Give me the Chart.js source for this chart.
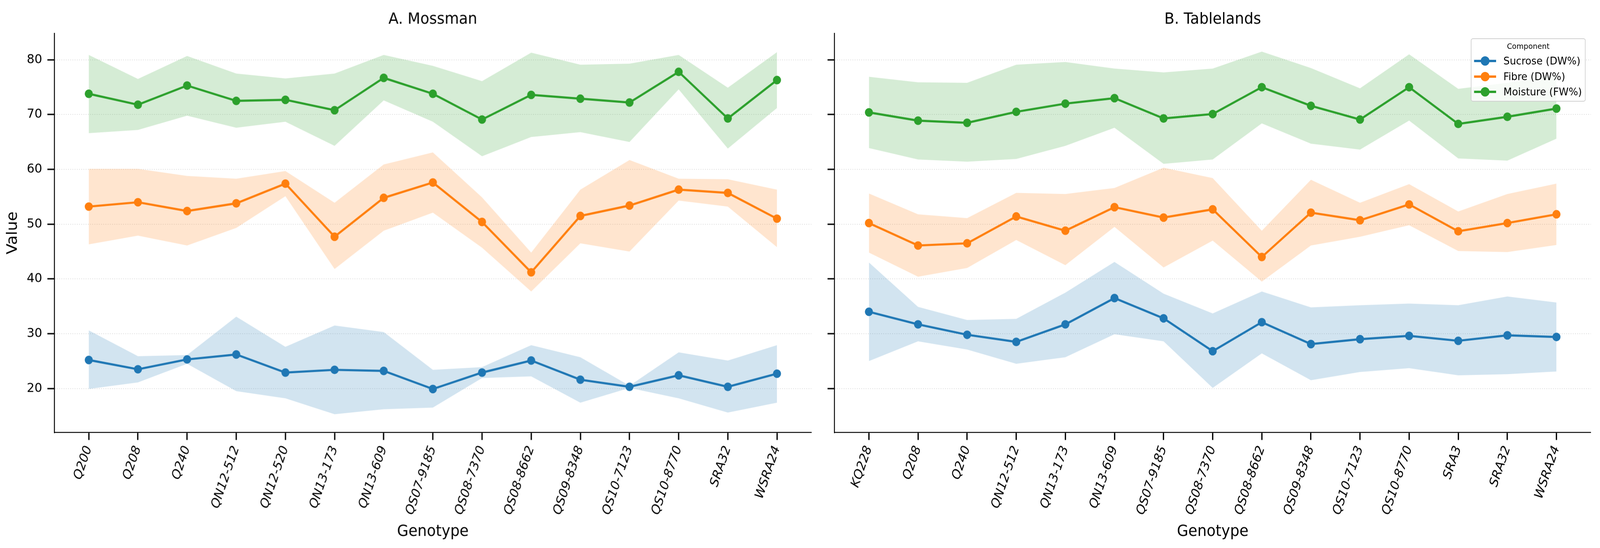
<!DOCTYPE html>
<html>
<head>
<meta charset="utf-8">
<title>Mossman / Tablelands</title>
<script src="https://cdn.jsdelivr.net/npm/chart.js@4.4.0/dist/chart.umd.min.js"></script>
<style>
  html, body { margin: 0; padding: 0; background: #fff; overflow: hidden; }
  #pagina { position: absolute; left: 0; top: 0; width: 4358px; height: 1402px; transform-origin: 0 0;
            font-family: "DejaVu Sans", sans-serif; background: #fff; }
  #wrapA { position: absolute; left: 0; top: 0; width: 2230px; height: 1402px; }
  #wrapB { position: absolute; left: 2230px; top: 0; width: 2128px; height: 1402px; }
  #legend { position: absolute; left: 4006px; top: 98px; width: 313px; height: 162px; box-sizing: border-box;
            border: 2px solid #d0d0d0; border-radius: 6px; background: rgba(255,255,255,0.8); color: #000; }
  #legend .titolo { position: absolute; left: 0; width: 100%; top: 6px; text-align: center; font-size: 20px; line-height: 24px; }
  #legend .riga { position: absolute; left: 0; width: 100%; height: 36px; }
  #legend .linea { position: absolute; left: 7px; width: 60px; top: 15px; height: 6px; }
  #legend .punto { position: absolute; left: 25px; top: 6px; width: 24px; height: 24px; border-radius: 50%; }
  #legend .testo { position: absolute; left: 87px; top: 0; font-size: 27px; line-height: 36px; white-space: nowrap; }
</style>
</head>
<body>
<div id="pagina">
  <div id="wrapA"><canvas id="chartA"></canvas></div>
  <div id="wrapB"><canvas id="chartB"></canvas></div>
  <div id="legend"></div>
</div>
<script>
// categorie
var genotipiMossman = ['Q200', 'Q208', 'Q240', 'QN12-512', 'QN12-520', 'QN13-173', 'QN13-609', 'QS07-9185',
  'QS08-7370', 'QS08-8662', 'QS09-8348', 'QS10-7123', 'QS10-8770', 'SRA32', 'WSRA24'];
var genotipiTablelands = ['KQ228', 'Q208', 'Q240', 'QN12-512', 'QN13-173', 'QN13-609', 'QS07-9185',
  'QS08-7370', 'QS08-8662', 'QS09-8348', 'QS10-7123', 'QS10-8770', 'SRA3', 'SRA32', 'WSRA24'];
var componenti = ['Sucrose (DW%)', 'Fibre (DW%)', 'Moisture (FW%)'];
var valoriTickY = [20, 30, 40, 50, 60, 70, 80];

// A. Mossman
var sucroseMossman     = [25.2, 23.5, 25.3, 26.2, 22.9, 23.4, 23.2, 19.9, 22.9, 25.1, 21.6, 20.3, 22.4, 20.3, 22.7];
var sucroseMossmanMin  = [19.9, 21.1, 24.5, 19.5, 18.2, 15.3, 16.2, 16.5, 21.9, 22.2, 17.4, 20.1, 18.2, 15.6, 17.4];
var sucroseMossmanMax  = [30.6, 25.9, 26.1, 33.1, 27.6, 31.5, 30.3, 23.4, 23.9, 27.9, 25.7, 20.5, 26.6, 25.1, 27.9];
var fibreMossman       = [53.2, 54.0, 52.4, 53.8, 57.4, 47.7, 54.8, 57.6, 50.4, 41.2, 51.5, 53.4, 56.3, 55.7, 51.0];
var fibreMossmanMin    = [46.3, 47.9, 46.1, 49.3, 55.1, 41.8, 48.8, 52.1, 45.7, 37.7, 46.5, 45.0, 54.3, 53.2, 45.8];
var fibreMossmanMax    = [60.1, 60.1, 58.8, 58.3, 59.7, 53.9, 60.9, 63.1, 54.9, 44.8, 56.3, 61.7, 58.3, 58.2, 56.3];
var moistureMossman    = [73.8, 71.8, 75.3, 72.5, 72.7, 70.8, 76.7, 73.8, 69.1, 73.6, 72.9, 72.2, 77.8, 69.3, 76.3];
var moistureMossmanMin = [66.6, 67.2, 69.8, 67.6, 68.7, 64.3, 72.6, 68.7, 62.4, 65.9, 66.8, 65.0, 74.6, 63.8, 71.2];
var moistureMossmanMax = [80.9, 76.5, 80.7, 77.5, 76.6, 77.5, 80.9, 78.9, 76.1, 81.3, 79.1, 79.3, 80.9, 74.9, 81.4];

// B. Tablelands
var sucroseTablelands     = [34.0, 31.7, 29.8, 28.5, 31.7, 36.5, 32.8, 26.8, 32.1, 28.1, 29.0, 29.6, 28.7, 29.7, 29.4];
var sucroseTablelandsMin  = [25.0, 28.6, 27.1, 24.5, 25.7, 29.9, 28.6, 20.1, 26.4, 21.5, 23.0, 23.7, 22.4, 22.6, 23.1];
var sucroseTablelandsMax  = [43.0, 34.9, 32.5, 32.7, 37.5, 43.1, 37.3, 33.7, 37.7, 34.8, 35.2, 35.5, 35.2, 36.8, 35.7];
var fibreTablelands       = [50.2, 46.1, 46.5, 51.4, 48.8, 53.1, 51.2, 52.7, 44.0, 52.1, 50.7, 53.6, 48.7, 50.2, 51.8];
var fibreTablelandsMin    = [44.8, 40.4, 42.0, 47.1, 42.5, 49.5, 42.1, 47.0, 39.5, 46.1, 47.7, 49.8, 45.1, 44.9, 46.2];
var fibreTablelandsMax    = [55.6, 51.8, 51.1, 55.7, 55.5, 56.6, 60.3, 58.4, 48.8, 58.1, 53.9, 57.3, 52.3, 55.5, 57.4];
var moistureTablelands    = [70.4, 68.9, 68.5, 70.5, 72.0, 73.0, 69.3, 70.1, 75.0, 71.6, 69.1, 75.0, 68.3, 69.6, 71.1];
var moistureTablelandsMin = [63.9, 61.8, 61.4, 61.9, 64.3, 67.6, 61.0, 61.8, 68.4, 64.7, 63.6, 68.9, 62.0, 61.6, 65.6];
var moistureTablelandsMax = [76.9, 75.9, 75.8, 79.1, 79.6, 78.4, 77.7, 78.4, 81.5, 78.5, 74.8, 81.0, 74.7, 75.8, 77.1];

var colori = ['#1f77b4', '#ff7f0e', '#2ca02c'];
var coloriBanda = ['rgba(31,119,180,0.2)', 'rgba(255,127,14,0.2)', 'rgba(44,160,44,0.2)'];
var fontBase = '"DejaVu Sans", sans-serif';

// la pagina e' disegnata a 4358x1402 e poi adattata alla finestra
var scalaX = window.innerWidth / 4358;
var scalaY = window.innerHeight / 1402;
document.getElementById('pagina').style.transform = 'scale(' + scalaX + ',' + scalaY + ')';
var rapportoPixel = (window.devicePixelRatio || 1) * scalaX;

function punti(valori)
{
  var arr = [];
  for (var i = 0; i < valori.length; i++) {
    arr.push({x: i, y: valori[i]});
  }
  return arr;
}

function creaDatasets(medie, minimi, massimi)
{
  var datasets = [];
  // bande prima, sotto le linee
  for (var c = 0; c < medie.length; c++) {
    var indiceMin = datasets.length;
    datasets.push({
      data: punti(minimi[c]),
      borderWidth: 0,
      borderColor: 'transparent',
      pointRadius: 0,
      fill: false,
      order: 10
    });
    datasets.push({
      data: punti(massimi[c]),
      borderWidth: 0,
      borderColor: 'transparent',
      backgroundColor: coloriBanda[c],
      pointRadius: 0,
      fill: indiceMin,
      order: 10
    });
  }
  for (var k = 0; k < medie.length; k++) {
    datasets.push({
      label: componenti[k],
      data: punti(medie[k]),
      borderColor: colori[k],
      backgroundColor: colori[k],
      borderWidth: 5.5,
      pointRadius: 11,
      pointBorderWidth: 0,
      pointBackgroundColor: colori[k],
      fill: false,
      tension: 0,
      order: 0
    });
  }
  return datasets;
}

function creaOpzioni(titolo, etichette, mostraY, larghezzaY, padDestra)
{
  return {
    responsive: true,
    maintainAspectRatio: false,
    animation: false,
    devicePixelRatio: rapportoPixel,
    events: [],
    layout: { padding: { left: 0, right: padDestra, top: 0, bottom: 0 } },
    plugins: {
      legend: { display: false },
      tooltip: { enabled: false },
      title: {
        display: true,
        text: titolo,
        fullSize: false,
        color: '#000',
        font: { family: fontBase, size: 40, weight: 'normal' },
        padding: { top: 26, bottom: 11 }
      }
    },
    scales: {
      x: {
        type: 'linear',
        min: -0.7,
        max: 14.7,
        afterBuildTicks: function(scale) {
          scale.ticks = etichette.map(function(e, i) { return {value: i}; });
        },
        afterFit: function(scale) { scale.height = 296; },
        ticks: {
          autoSkip: false,
          minRotation: 70,
          maxRotation: 70,
          padding: 10,
          color: '#000',
          font: { family: fontBase, size: 33, style: 'italic' },
          callback: function(value) { return etichette[value]; }
        },
        grid: { drawOnChartArea: false, tickLength: 19, tickWidth: 3.5, tickColor: '#000' },
        border: { color: '#000', width: 2.5 },
        title: {
          display: true,
          text: 'Genotype',
          color: '#000',
          font: { family: fontBase, size: 40 },
          padding: { top: 0, bottom: 18 }
        }
      },
      y: {
        min: 11.95,
        max: 84.85,
        afterBuildTicks: function(scale) {
          scale.ticks = valoriTickY.map(function(v) { return {value: v}; });
        },
        afterFit: function(scale) { scale.width = larghezzaY; },
        ticks: {
          display: mostraY,
          padding: 14,
          color: '#000',
          font: { family: fontBase, size: 33 }
        },
        grid: { color: 'rgba(0,0,0,0.15)', lineWidth: 2, tickLength: 19, tickWidth: 3.5, tickColor: '#000' },
        border: { color: '#000', width: 2.5, dash: [2, 4] },
        title: {
          display: mostraY,
          text: 'Value',
          color: '#000',
          font: { family: fontBase, size: 40 },
          padding: { top: 11, bottom: 0 }
        }
      }
    }
  };
}

var chartMossman = new Chart(document.getElementById('chartA'), {
  type: 'line',
  data: {
    datasets: creaDatasets(
      [sucroseMossman, fibreMossman, moistureMossman],
      [sucroseMossmanMin, fibreMossmanMin, moistureMossmanMin],
      [sucroseMossmanMax, fibreMossmanMax, moistureMossmanMax])
  },
  options: creaOpzioni('A. Mossman', genotipiMossman, true, 148, 21)
});

var chartTablelands = new Chart(document.getElementById('chartB'), {
  type: 'line',
  data: {
    datasets: creaDatasets(
      [sucroseTablelands, fibreTablelands, moistureTablelands],
      [sucroseTablelandsMin, fibreTablelandsMin, moistureTablelandsMin],
      [sucroseTablelandsMax, fibreTablelandsMax, moistureTablelandsMax])
  },
  options: creaOpzioni('B. Tablelands', genotipiTablelands, false, 43, 25)
});

// legenda html (solo pannello B)
var legenda = document.getElementById('legend');
var html = '<div class="titolo">Component</div>';
for (var i = 0; i < componenti.length; i++) {
  var posRiga = 38 + i * 39.5;
  html += '<div class="riga" style="top:' + posRiga + 'px">' +
    '<span class="linea" style="background:' + colori[i] + '"></span>' +
    '<span class="punto" style="background:' + colori[i] + '"></span>' +
    '<span class="testo">' + componenti[i] + '</span></div>';
}
legenda.innerHTML = html;
</script>
</body>
</html>
